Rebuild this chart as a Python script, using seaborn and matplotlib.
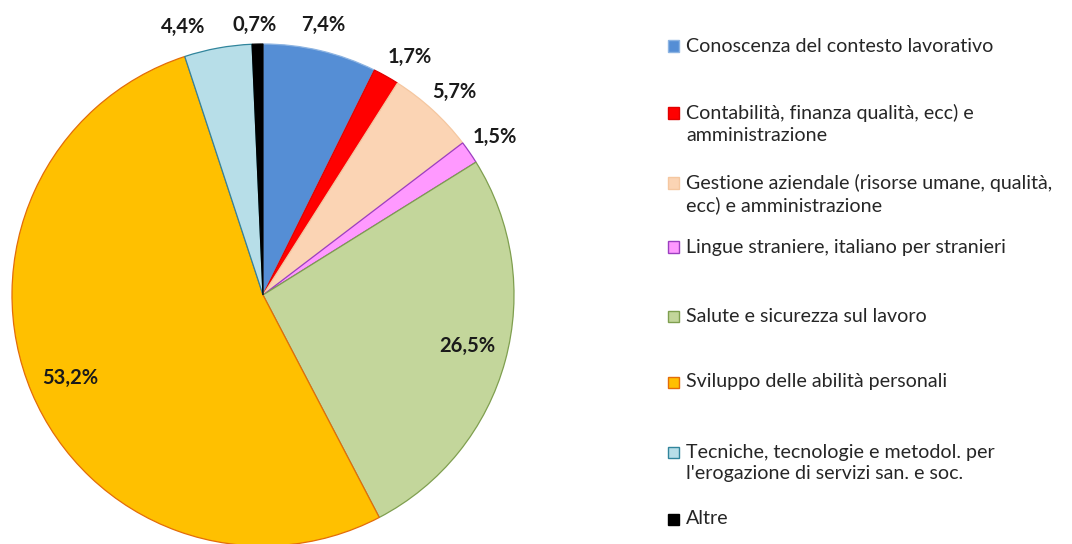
import numpy as np
import matplotlib
matplotlib.use("Agg")
import matplotlib.pyplot as plt
from matplotlib.patches import Rectangle
import seaborn as sns

# Share of training hours by subject area (%)
categories = [
    "Conoscenza del contesto lavorativo",
    "Contabilità, finanza qualità, ecc) e\namministrazione",
    "Gestione aziendale (risorse umane, qualità,\necc) e amministrazione",
    "Lingue straniere, italiano per stranieri",
    "Salute e sicurezza sul lavoro",
    "Sviluppo delle abilità personali",
    "Tecniche, tecnologie e metodol. per\nl'erogazione di servizi san. e soc.",
    "Altre",
]
values = [7.4, 1.7, 5.7, 1.5, 26.5, 53.2, 4.4, 0.7]
value_labels = ["7,4%", "1,7%", "5,7%", "1,5%", "26,5%", "53,2%", "4,4%", "0,7%"]

fill_colors = ["#558ED5", "#FF0000", "#FBD4B4", "#FF99FF",
               "#C3D69B", "#FFC000", "#B7DEE8", "#000000"]
edge_colors = ["#8DB4E2", "#E00000", "#F5C7A0", "#9B3FC0",
               "#7F9F4F", "#E36C09", "#31859C", "#000000"]

# Label placement: radial distance (in radii) and angular nudge (deg) per slice
label_dist = [1.102, 1.114, 1.113, 1.118, 0.841, 0.837, 1.114, 1.076]
label_nudge = [0.7, -2.3, -0.8, -0.3, 1.2, 0.4, 6.3, 0.45]

sns.set_theme(style="white")
plt.rcParams["font.family"] = ["Lato", "DejaVu Sans"]

W, H = 1072, 544
fig = plt.figure(figsize=(W / 100, H / 100), dpi=100)

# Pie axes: centre (263, 295) px, radius 251 px
cx, cy, r = 263, 295, 251
ax = fig.add_axes([(cx - r) / W, (H - cy - r) / H, 2 * r / W, 2 * r / H])

wedges, _ = ax.pie(values, colors=fill_colors, startangle=90, counterclock=False,
                   radius=1.0, wedgeprops=dict(linewidth=0.9))
ax.set_xlim(-1, 1)
ax.set_ylim(-1, 1)
ax.set_aspect("equal")
ax.axis("off")
for w, ec in zip(wedges, edge_colors):
    w.set_edgecolor(ec)
    w.set_clip_on(False)

# Value labels: outside for small slices, inside for the two large ones
for w, lab, d, nud in zip(wedges, value_labels, label_dist, label_nudge):
    mid = np.deg2rad((w.theta1 + w.theta2) / 2 + nud)
    t = ax.text(d * np.cos(mid), d * np.sin(mid), lab, ha="center", va="center",
                fontsize=14.5, fontweight="bold", color="#1a1a1a")
    t.set_clip_on(False)

# Legend drawn as swatches + text on the figure
legend_y = [46, 124, 194, 247, 316, 382, 463, 519]
sq = 11
for y, cat, fc, ec in zip(legend_y, categories, fill_colors, edge_colors):
    n_lines = cat.count("\n") + 1
    first_y = y - (n_lines - 1) * 11
    fig.patches.append(Rectangle((668 / W, (H - first_y - sq / 2) / H), sq / W, sq / H,
                                 transform=fig.transFigure, facecolor=fc,
                                 edgecolor=ec, linewidth=1.0))
    fig.text(686 / W, (H - y) / H, cat, ha="left", va="center", fontsize=14.1,
             color="#262626", linespacing=1.3)

fig.savefig("out.png", dpi=100, facecolor="white")
